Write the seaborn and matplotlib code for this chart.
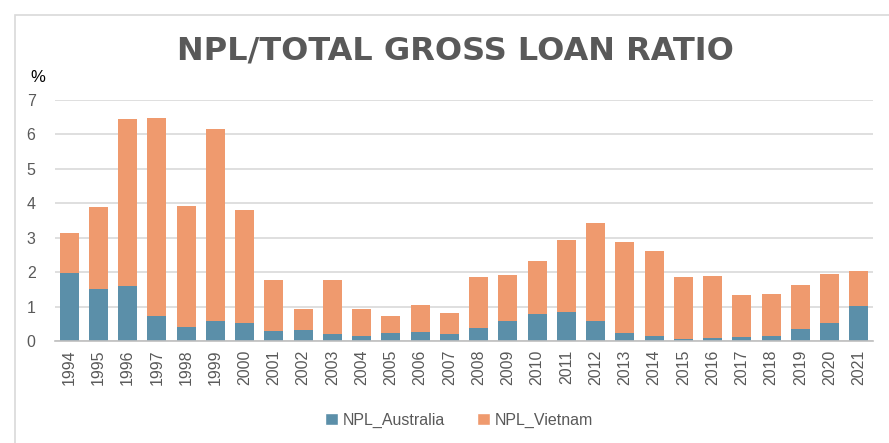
import matplotlib
matplotlib.use("Agg")
import matplotlib.pyplot as plt
from matplotlib.patches import Rectangle, Patch
import seaborn as sns
import numpy as np
import pandas as pd

years = [str(y) for y in range(1994, 2022)]
npl_australia = [1.98, 1.51, 1.59, 0.73, 0.42, 0.58, 0.52, 0.29, 0.33, 0.20, 0.14, 0.23, 0.25, 0.21,
                 0.37, 0.58, 0.78, 0.84, 0.58, 0.22, 0.15, 0.07, 0.10, 0.12, 0.14, 0.35, 0.52, 1.01]
npl_vietnam = [1.15, 2.37, 4.87, 5.75, 3.51, 5.57, 3.28, 1.48, 0.59, 1.56, 0.78, 0.50, 0.80, 0.59,
               1.49, 1.35, 1.55, 2.08, 2.85, 2.66, 2.45, 1.79, 1.79, 1.22, 1.22, 1.28, 1.44, 1.02]
yticks = [0, 1, 2, 3, 4, 5, 6, 7]
title = "NPL/TOTAL GROSS LOAN RATIO"

df = pd.DataFrame({"year": years, "au": npl_australia, "vn": npl_vietnam})
df["total"] = df["au"] + df["vn"]

c_au = "#5B8FA9"
c_vn = "#EF9A6E"
txt = "#595959"
grid = "#D9D9D9"

sns.set_theme(style="white")
plt.rcParams["font.family"] = ["Liberation Sans", "DejaVu Sans"]

fig = plt.figure(figsize=(8.89, 4.43), dpi=100)
ax = fig.add_axes([55 / 889, 1 - 341 / 443, (873 - 55) / 889, (341 - 100) / 443])

sns.barplot(data=df, x="year", y="total", color=c_vn, saturation=1, width=0.65, ax=ax, linewidth=0)
sns.barplot(data=df, x="year", y="au", color=c_au, saturation=1, width=0.65, ax=ax, linewidth=0)

ax.set_ylim(0, 7)
ax.set_xlim(-0.48, len(years) - 0.52)
ax.set_yticks(yticks)
ax.set_yticklabels([str(t) for t in yticks], color=txt, fontsize=11.5)
ax.set_xticks(range(len(years)))
ax.set_xticklabels(years, rotation=90, color=txt, fontsize=11.5)
ax.tick_params(axis="both", length=0, pad=6)
ax.tick_params(axis="y", pad=14)
ax.set_xlabel("")
ax.set_ylabel("")
for s in ["left", "right", "top"]:
    ax.spines[s].set_visible(False)
ax.spines["bottom"].set_color("#BFBFBF")
ax.spines["bottom"].set_linewidth(1.2)
ax.yaxis.grid(True, color=grid, linewidth=1.2)
ax.set_axisbelow(True)

# frame
fig.patches.append(Rectangle((15 / 889, -0.1), 1.0, (443 - 15) / 443 + 0.1, transform=fig.transFigure,
                             fill=False, edgecolor="#D9D9D9", linewidth=1.2))

fig.text(455 / 889, 1 - 51 / 443, title, ha="center", va="center", fontsize=23,
         fontweight="bold", color=txt, family=["Liberation Sans Narrow", "DejaVu Sans"])
fig.text(38 / 889, 1 - 77 / 443, "%", ha="center", va="center", fontsize=12, color="black")

handles = [Patch(facecolor=c_au, label="NPL_Australia"), Patch(facecolor=c_vn, label="NPL_Vietnam")]
fig.legend(handles=handles, loc="center", bbox_to_anchor=(459 / 889, 1 - 420 / 443), ncol=2,
           frameon=False, fontsize=11.5, labelcolor=txt, handlelength=0.8, handleheight=0.8,
           handletextpad=0.3, columnspacing=2.0)

fig.savefig("out.png", dpi=100)
